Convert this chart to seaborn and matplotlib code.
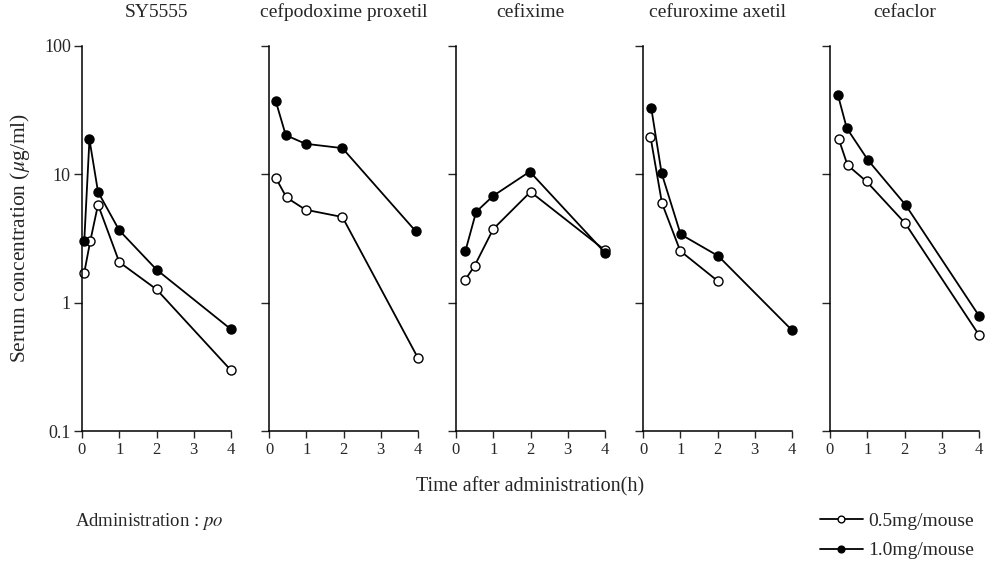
import pandas as pd
import matplotlib
matplotlib.use("Agg")
import matplotlib.pyplot as plt
import seaborn as sns

# Serum levels after oral dosing in mice
drugs = ['SY5555', 'cefpodoxime proxetil', 'cefixime', 'cefuroxime axetil', 'cefaclor']
doses = ['0.5mg/mouse', '1.0mg/mouse']

# times (h) and concentrations (ug/ml) per drug, low dose
t_low = [
    [0.06, 0.22, 0.43, 1.0, 2.0, 4.0],
    [0.18, 0.47, 0.98, 1.97, 4.0],
    [0.25, 0.5, 1.0, 2.0, 4.0],
    [0.2, 0.51, 1.0, 2.0],
    [0.23, 0.47, 0.98, 2.02, 4.0],
]
c_low = [
    [1.71, 3.0, 5.8, 2.07, 1.27, 0.297],
    [9.4, 6.6, 5.3, 4.65, 0.37],
    [1.51, 1.94, 3.75, 7.3, 2.56],
    [19.7, 5.95, 2.53, 1.48],
    [19.0, 11.8, 8.8, 4.15, 0.56],
]
# high dose
t_high = [
    [0.06, 0.2, 0.43, 1.0, 2.0, 4.0],
    [0.18, 0.45, 0.98, 1.97, 3.94],
    [0.25, 0.54, 1.0, 1.98, 4.0],
    [0.22, 0.5, 1.01, 2.02, 4.0],
    [0.21, 0.45, 1.02, 2.03, 4.0],
]
c_high = [
    [3.0, 18.7, 7.3, 3.66, 1.81, 0.62],
    [37.3, 20.2, 17.3, 16.0, 3.6],
    [2.51, 5.1, 6.8, 10.5, 2.45],
    [33.1, 10.2, 3.41, 2.31, 0.61],
    [41.8, 22.9, 12.9, 5.77, 0.79],
]

rows = []
for i, drug in enumerate(drugs):
    for t, c in zip(t_low[i], c_low[i]):
        rows.append((drug, doses[0], t, c))
    for t, c in zip(t_high[i], c_high[i]):
        rows.append((drug, doses[1], t, c))
df = pd.DataFrame(rows, columns=['drug', 'dose', 'time', 'conc'])

sns.set_style("ticks")
plt.rcParams['font.family'] = ['Liberation Serif', 'DejaVu Serif']
plt.rcParams['mathtext.fontset'] = 'stix'

fig = plt.figure(figsize=(9.92, 5.63), dpi=100)
W, H = 992, 563

face = {doses[0]: 'white', doses[1]: 'black'}
axes = []
for i, drug in enumerate(drugs):
    left = 82 + i * 187
    ax = fig.add_axes([left / W, (H - 431) / H, 149 / W, 385 / H])
    axes.append(ax)
    sub = df[df['drug'] == drug]
    for dose in doses:
        d = sub[sub['dose'] == dose]
        sns.lineplot(data=d, x='time', y='conc', ax=ax, color='black',
                     marker='o', markersize=6.5, markerfacecolor=face[dose],
                     markeredgecolor='black', markeredgewidth=1.0,
                     linewidth=1.3, errorbar=None, label=dose, clip_on=False)
    ax.set_yscale('log')
    ax.set_ylim(0.1, 100)
    ax.set_xlim(0, 4)
    ax.set_xticks([0, 1, 2, 3, 4])
    ax.set_yticks([0.1, 1, 10, 100])
    ax.minorticks_off()
    if i == 0:
        ax.set_yticklabels(['0.1', '1', '10', '100'], fontsize=13)
    else:
        ax.set_yticklabels([])
    ax.tick_params(axis='x', labelsize=12, length=5, width=1, pad=3)
    ax.tick_params(axis='y', length=6, width=1, pad=2)
    sns.despine(ax=ax)
    for s in ['left', 'bottom']:
        ax.spines[s].set_linewidth(1.1)
        ax.spines[s].set_color('black')
    ax.set_xlabel('')
    ax.set_ylabel('')
    ax.set_title(drug, fontsize=14, pad=21)
    ax.get_legend().remove()
    ax.set_facecolor('none')

fig.text(20 / W, 1 - 238 / H, 'Serum concentration ($\\mu$g/ml)', rotation=90,
         ha='center', va='center', fontsize=15.5)
fig.text(530 / W, 1 - 487 / H, 'Time after administration(h)',
         ha='center', va='center', fontsize=14.5)
fig.text(75 / W, 1 - 521 / H, 'Administration : $\\mathit{po}$',
         ha='left', va='center', fontsize=13.5)

handles, labels = axes[0].get_legend_handles_labels()
fig.legend(handles, labels, loc='center right',
           bbox_to_anchor=(992 / W, 1 - 536 / H), frameon=False,
           fontsize=14, handlelength=2.2, handletextpad=0.3,
           labelspacing=0.6, markerscale=0.75)

fig.savefig('out.png', dpi=100)
